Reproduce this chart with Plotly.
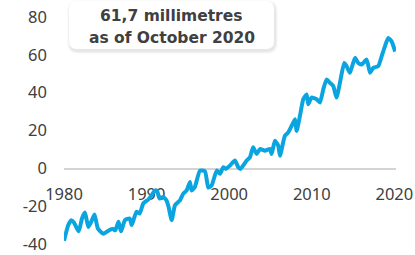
import plotly.graph_objects as go

# --- data (year, millimetres) ---
years = [1980.0, 1980.52, 1980.88, 1981.2, 1981.78, 1982.18, 1982.54, 1982.94, 1983.3, 1983.69,
         1984.1, 1984.76, 1985.33, 1985.93, 1986.2, 1986.6, 1986.9, 1987.38, 1987.95, 1988.2,
         1988.77, 1989.16, 1989.6, 1990.2, 1990.6, 1991.0, 1991.25, 1991.6, 1992.0, 1992.4,
         1992.65, 1993.04, 1993.44, 1994.04, 1994.44, 1994.85, 1995.25, 1995.45, 1995.86, 1996.46,
         1997.07, 1997.47, 1997.88, 1998.49, 1998.89, 1999.29, 1999.6, 2000.1, 2000.7, 2001.1,
         2001.37, 2002.12, 2002.52, 2002.9, 2003.33, 2003.73, 2004.33, 2004.94, 2005.14, 2005.54,
         2005.94, 2006.15, 2006.75, 2007.15, 2007.57, 2007.97, 2008.17, 2008.57, 2008.97, 2009.38,
         2009.57, 2009.98, 2010.59, 2010.99, 2011.39, 2011.8, 2012.2, 2012.6, 2013.0, 2013.41,
         2013.93, 2014.22, 2014.62, 2015.23, 2015.63, 2016.04, 2016.65, 2017.05, 2017.45, 2018.05,
         2018.46, 2018.86, 2019.26, 2019.67, 2020.1]
sea_level = [-38.3, -30.0, -27.4, -28.6, -33.3, -26.5, -23.4, -31.0, -28.2, -24.4,
             -31.8, -34.6, -33.1, -32.0, -32.8, -28.3, -33.3, -27.4, -26.5, -30.0,
             -23.0, -23.9, -18.6, -16.5, -14.3, -11.7, -11.8, -16.0, -15.1, -16.9,
             -20.2, -27.4, -19.5, -16.9, -13.4, -11.7, -7.2, -11.7, -9.7, -1.2,
             -1.6, -10.2, -9.0, -1.2, -2.9, 0.6, -0.3, 1.5, 4.1, 0.6,
             -0.3, 4.1, 5.9, 11.1, 7.6, 10.2, 9.3, 10.2, 7.6, 14.6,
             12.0, 6.7, 17.2, 19.0, 22.5, 26.0, 19.8, 27.7, 36.5, 39.1,
             33.9, 37.4, 36.5, 34.8, 41.7, 47.0, 45.2, 43.5, 37.4, 45.2,
             55.7, 54.0, 50.5, 58.4, 55.7, 54.9, 57.5, 50.5, 53.1, 54.0,
             59.2, 64.5, 68.9, 67.1, 61.7]

x_ticks = [1980, 1990, 2000, 2010, 2020]
y_ticks = [-40, -20, 0, 20, 40, 60, 80]
y_tick_text = ["-40", "-20", "0", "20", "40", "60", "80"]
label_lines = ["61,7 millimetres", "as of October 2020"]

W, H = 415, 255
L, R, T, B = 64, 19, 17, 11
PW, PH = W - L - R, H - T - B

def px_x(x):
    return (x - L) / PW

def px_y(y):
    return (H - B - y) / PH

TEXT = "#404040"
LINE = "#0aa5e0"

fig = go.Figure()
fig.add_trace(go.Scatter(
    x=years, y=sea_level, mode="lines",
    line=dict(color=LINE, width=4, shape="spline", smoothing=0.5),
    hoverinfo="skip", showlegend=False, cliponaxis=False,
))

# rounded box with soft shadow
def rrect(x0, y0, x1, y1, r):
    ax0, ax1 = px_x(x0), px_x(x1)
    ay0, ay1 = px_y(y1), px_y(y0)  # bottom, top in paper coords
    rx, ry = r / PW, r / PH
    return (f"M{ax0+rx},{ay1} L{ax1-rx},{ay1} Q{ax1},{ay1} {ax1},{ay1-ry} "
            f"L{ax1},{ay0+ry} Q{ax1},{ay0} {ax1-rx},{ay0} L{ax0+rx},{ay0} "
            f"Q{ax0},{ay0} {ax0},{ay0+ry} L{ax0},{ay1-ry} Q{ax0},{ay1} {ax0+rx},{ay1} Z")

shapes = []
for i, op in enumerate([0.02, 0.03, 0.045]):
    g = 3 - i
    shapes.append(dict(type="path", xref="paper", yref="paper",
                       path=rrect(69 - g + 1, 1 - g + 2, 274 + g + 1, 49 + g + 2, 8 + g),
                       fillcolor=f"rgba(0,0,0,{op})", line=dict(width=0), layer="above"))
shapes.append(dict(type="path", xref="paper", yref="paper",
                   path=rrect(69, 1, 274, 49, 8),
                   fillcolor="white", line=dict(width=0), layer="above"))

annotations = [
    dict(text=f"<b>{label_lines[0]}</b>", xref="paper", yref="paper",
         x=px_x(171.5), y=px_y(15.5), xanchor="center", yanchor="middle",
         showarrow=False, font=dict(family="DejaVu Sans", size=15.5, color=TEXT)),
    dict(text=f"<b>{label_lines[1]}</b>", xref="paper", yref="paper",
         x=px_x(171.5), y=px_y(37.5), xanchor="center", yanchor="middle",
         showarrow=False, font=dict(family="DejaVu Sans", size=15.5, color=TEXT)),
]

fig.update_layout(
    width=W, height=H,
    margin=dict(l=L, r=R, t=T, b=B, pad=0, autoexpand=False),
    paper_bgcolor="white", plot_bgcolor="white",
    shapes=shapes, annotations=annotations,
    font=dict(family="Noto Sans", size=16.5, color=TEXT),
    xaxis=dict(range=[1980, 2020.2], tickvals=x_ticks, ticktext=[str(v) for v in x_ticks],
               showgrid=False, zeroline=False, showline=True, linecolor="#d4d4d4", linewidth=1.5,
               anchor="free", position=1/3, ticks="", ticklabelstandoff=10, automargin=False,
               ticklabeloverflow="allow", fixedrange=True, layer="below traces"),
    yaxis=dict(range=[-40, 80], tickvals=y_ticks, ticktext=y_tick_text, showgrid=False,
               zeroline=False, showline=False, ticks="", ticklabelstandoff=16, automargin=False,
               ticklabeloverflow="allow", fixedrange=True),
)

fig.write_html(
    "out.html",
    config={"displayModeBar": False, "staticPlot": True},
    post_script="document.body.style.margin='0';document.body.style.padding='0';"
                "document.documentElement.style.overflow='hidden';",
)
